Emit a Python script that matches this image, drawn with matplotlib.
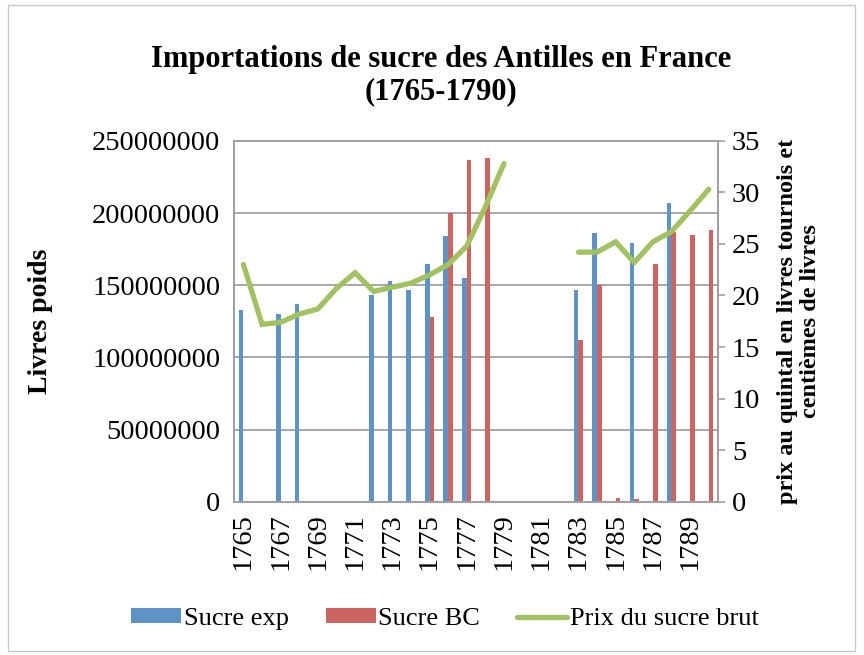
import numpy as np
import matplotlib
matplotlib.use("Agg")
import matplotlib.pyplot as plt
from matplotlib.patches import Rectangle

nan = np.nan

years = list(range(1765, 1791))
sucre_exp = [133e6, nan, 130e6, 137e6, nan, nan, nan, 143e6, 153e6, 147e6,
             165e6, 184e6, 155e6, nan, nan, nan, nan, nan, 147e6, 186e6,
             nan, 179e6, nan, 207e6, nan, nan]
sucre_bc = [nan, nan, nan, nan, nan, nan, nan, nan, nan, nan,
            128e6, 200e6, 237e6, 238e6, nan, nan, nan, nan, 112e6, 150e6,
            2.5e6, 2e6, 165e6, 187e6, 185e6, 188e6]
prix = [23.0, 17.2, 17.4, 18.2, 18.7, 20.7, 22.2, 20.4, 20.8, 21.2,
        22.0, 23.0, 24.8, 28.6, 32.8, nan, nan, nan, 24.2, 24.2,
        25.2, 23.2, 25.2, 26.2, 28.2, 30.3]

blue = "#5E93C8"
red = "#CC6560"
green = "#A2C262"
grid_c = "#A0A0A0"

plt.rcParams["font.family"] = ["Liberation Serif", "DejaVu Serif"]

fig = plt.figure(figsize=(8.64, 6.55), dpi=100)
fig.patches.append(Rectangle((0.009, 0.006), 0.981, 0.986, transform=fig.transFigure,
                             fill=False, edgecolor="#C8C8C8", linewidth=1))
ax = fig.add_axes([0.271, 0.234, 0.56, 0.551])
ax2 = ax.twinx()

x = np.arange(len(years))
w = 0.25
ax.bar(x - w / 2, sucre_exp, width=w, color=blue, label="Sucre exp", zorder=2)
ax.bar(x + w / 2, sucre_bc, width=w, color=red, label="Sucre BC", zorder=2)
ax2.plot(x, prix, color=green, linewidth=3.8, label="Prix du sucre brut",
         solid_capstyle="round", solid_joinstyle="miter")

ax.set_xlim(-0.5, len(years) - 0.5)
ax.set_ylim(0, 250e6)
ax.set_yticks(np.arange(0, 250e6 + 1, 50e6))
ax.set_yticklabels([f"{int(v)}" for v in np.arange(0, 250e6 + 1, 50e6)])
ax2.set_ylim(0, 35)
ax2.set_yticks(range(0, 36, 5))

ax.set_xticks(x[::2])
ax.set_xticklabels([str(y) for y in years[::2]], rotation=90)
ax.yaxis.grid(True, color=grid_c, linewidth=1.3, zorder=0)
ax.set_axisbelow(True)

for a in (ax, ax2):
    for s in a.spines.values():
        s.set_color(grid_c)
        s.set_linewidth(1.3)
    a.tick_params(colors=grid_c, labelcolor="black", labelsize=20.5, length=5, width=1.2)
ax.tick_params(axis="x", length=0, pad=8)
ax.tick_params(axis="y", length=0, pad=10)
ax2.tick_params(axis="y", pad=5)

ax.set_ylabel("Livres poids", fontsize=20, fontweight="bold", labelpad=28)
ax2.set_ylabel("prix au quintal en livres tournois et\ncentièmes de livres",
               fontsize=17.5, fontweight="bold", labelpad=12, linespacing=1.1)

fig.text(0.51, 0.885, "Importations de sucre des Antilles en France\n(1765-1790)",
         ha="center", va="center", fontsize=22, fontweight="bold", linespacing=1.15)

h1, l1 = ax.get_legend_handles_labels()
h2, l2 = ax2.get_legend_handles_labels()
fig.legend(h1 + h2, l1 + l2, loc="center", bbox_to_anchor=(0.515, 0.055), ncol=3,
           frameon=False, fontsize=19, handlelength=1.9, handletextpad=0.1,
           columnspacing=1.4, handleheight=0.45)

fig.savefig("out.png", dpi=100)
